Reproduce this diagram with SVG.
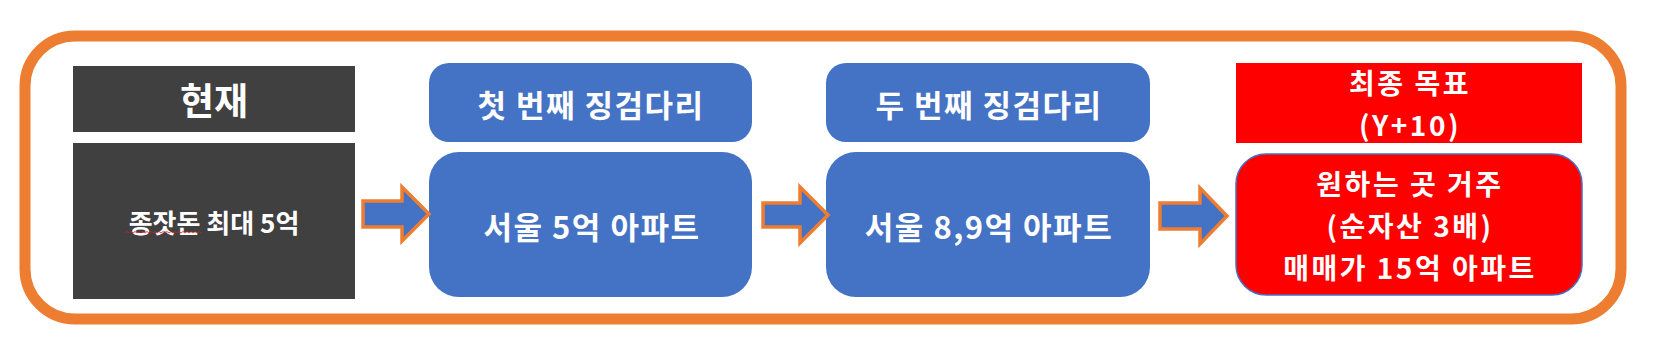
<svg xmlns="http://www.w3.org/2000/svg" width="1655" height="354" viewBox="0 0 1655 354">
<style>
.t{font-family:"Noto Sans CJK KR","Noto Sans",sans-serif;font-weight:bold;fill:#ffffff;text-anchor:middle;dominant-baseline:central}
.m{font-size:31px;letter-spacing:1.5px}
.r{font-size:28px;letter-spacing:2.5px}
.dark{fill:#404040}
.blue{fill:#4472C4}
.red{fill:#FF0000}
.arrow{fill:#4472C4;stroke:#ED7D31;stroke-width:3.5;stroke-linejoin:miter}
</style>
<rect width="1655" height="354" fill="#ffffff"/>
<g id="frame">
<rect x="25" y="36" width="1596" height="283" rx="50" ry="50" fill="none" stroke="#ED7D31" stroke-width="11"/>
</g>
<g id="current">
<rect class="dark" x="73" y="66" width="282" height="66"/>
<text class="t" x="214" y="99" font-size="37">현재</text>
<rect class="dark" x="73" y="143" width="282" height="156"/>
<text class="t" x="214" y="221" font-size="26">종잣돈 최대 5억</text>
<path d="M125,233 l2,-1.5 l2,1.5 l2,-1.5 l2,1.5 l2,-1.5 l2,1.5 l2,-1.5 l2,1.5 l2,-1.5 l2,1.5 l2,-1.5 l2,1.5 l2,-1.5 l2,1.5 l2,-1.5 l2,1.5 l2,-1.5 l2,1.5 l2,-1.5 l2,1.5 l2,-1.5 l2,1.5 l2,-1.5 l2,1.5 l2,-1.5 l2,1.5 l2,-1.5 l2,1.5 l2,-1.5 l2,1.5 l2,-1.5 l2,1.5 l2,-1.5 l2,1.5 l2,-1.5 l2,1.5 l2,-1.5 l2,1.5" fill="none" stroke="#d02020" stroke-width="0.8"/>
</g>
<g id="step1">
<rect class="blue" x="429" y="63" width="323" height="79" rx="20" ry="20"/>
<text class="t m" x="591" y="103">첫 번째 징검다리</text>
<rect class="blue" x="429" y="152" width="323" height="145" rx="30" ry="30"/>
<text class="t m" x="592" y="225">서울 5억 아파트</text>
</g>
<g id="step2">
<rect class="blue" x="826" y="63" width="324" height="79" rx="20" ry="20"/>
<text class="t m" x="989" y="103">두 번째 징검다리</text>
<rect class="blue" x="826" y="152" width="324" height="145" rx="30" ry="30"/>
<text class="t m" x="989" y="225">서울 8,9억 아파트</text>
</g>
<g id="goal">
<rect class="red" x="1236" y="63" width="346" height="80"/>
<text class="t r" x="1410" y="82">최종 목표</text>
<text class="t r" x="1410" y="124">(Y+10)</text>
<rect class="red" x="1236" y="154" width="346" height="141" rx="30" ry="30" stroke="#4472C4" stroke-width="1.5"/>
<text class="t r" x="1410" y="183">원하는 곳 거주</text>
<text class="t r" x="1410" y="225">(순자산 3배)</text>
<text class="t r" x="1410" y="267">매매가 15억 아파트</text>
</g>
<g id="connectors">
<polygon class="arrow" points="363,201 402,201 402,187 429,214 402,241 402,227 363,227"/>
<polygon class="arrow" points="763,203 800,203 800,187 828,215 800,243 800,227 763,227"/>
<polygon class="arrow" points="1160,203 1200,203 1200,188 1227,216 1200,244 1200,229 1160,229"/>
</g>
</svg>
